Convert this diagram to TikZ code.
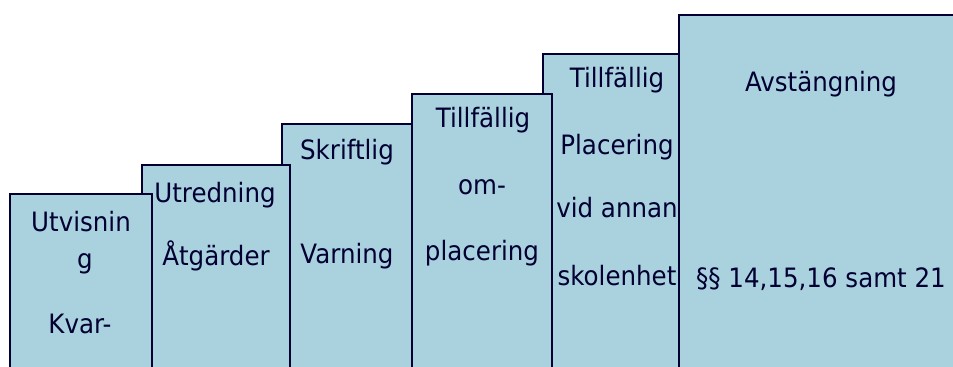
\documentclass[tikz,border=0pt]{standalone}
\usepackage{fontspec}
\setmainfont[FakeStretch=0.92]{DejaVu Sans}
\definecolor{boxblue}{RGB}{170,210,222}
\definecolor{navy}{RGB}{0,0,51}

\tikzset{every picture/.style={line width=0.75pt}}
\tikzset{
  stepbox/.style={draw=navy,fill=boxblue,line width=1.6pt},
  lbl/.style={anchor=base,inner sep=0.75pt,text=navy,font=\fontsize{20}{24}\selectfont}
}

\begin{document}
\begin{tikzpicture}[x=0.75pt,y=0.75pt,yscale=-1,xscale=1]
\useasboundingbox (0,0) rectangle (953,367);
\clip (0,0) rectangle (953,367);

%Shape: Rectangle [Avstangning]
\draw [stepbox] (679,15) -- (965,15) -- (965,400) -- (679,400) -- cycle ;
%Shape: Rectangle [Tillfallig placering]
\draw [stepbox] (543,54) -- (679,54) -- (679,400) -- (543,400) -- cycle ;
%Shape: Rectangle [Omplacering]
\draw [stepbox] (412,94) -- (552,94) -- (552,400) -- (412,400) -- cycle ;
%Shape: Rectangle [Skriftlig varning]
\draw [stepbox] (282,124) -- (412,124) -- (412,400) -- (282,400) -- cycle ;
%Shape: Rectangle [Utredning]
\draw [stepbox] (142,165) -- (290,165) -- (290,400) -- (142,400) -- cycle ;
%Shape: Rectangle [Utvisning]
\draw [stepbox] (10,194) -- (152,194) -- (152,400) -- (10,400) -- cycle ;

% Text Node
\node (utv1) [lbl] at (81,231) {Utvisnin};
% Text Node
\node (utv2) [lbl] at (85,268) {g};
% Text Node
\node (utv3) [lbl] at (80,333) {Kvar-};
% Text Node
\node (utr1) [lbl] at (215,203) {Utredning};
% Text Node
\node (utr2) [lbl] at (216,265) {Åtgärder};
% Text Node
\node (skr1) [lbl] at (347,160) {Skriftlig};
% Text Node
\node (skr2) [lbl] at (347,263) {Varning};
% Text Node
\node (omp1) [lbl] at (483,128) {Tillfällig};
% Text Node
\node (omp2) [lbl] at (482,195) {om-};
% Text Node
\node (omp3) [lbl] at (482,260) {placering};
% Text Node
\node (pla1) [lbl] at (617,88) {Tillfällig};
% Text Node
\node (pla2) [lbl] at (617,155) {Placering};
% Text Node
\node (pla3) [lbl] at (617,218) {vid annan};
% Text Node
\node (pla4) [lbl] at (617,285) {skolenhet};
% Text Node
\node (avs1) [lbl] at (821,92) {Avstängning};
% Text Node
\node (avs2) [lbl] at (821,287) {§§ 14,15,16 samt 21};
\end{tikzpicture}
\end{document}
